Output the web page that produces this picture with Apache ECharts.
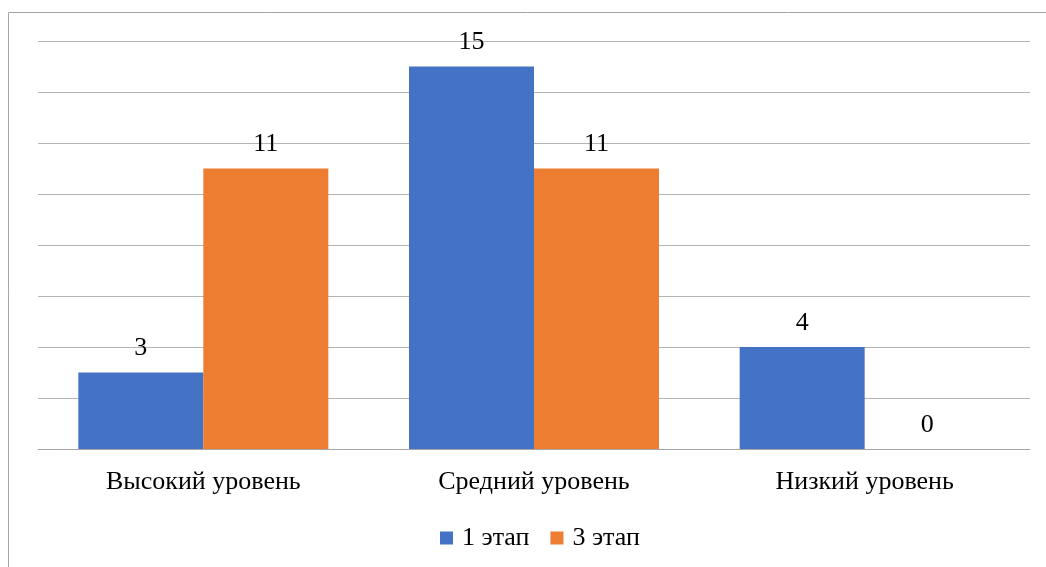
<!DOCTYPE html>
<html>
<head>
<meta charset="utf-8">
<script src="https://cdn.jsdelivr.net/npm/echarts@6/dist/echarts.min.js"></script>
<style>
  html, body { margin: 0; padding: 0; background: #fff; }
  #chart { width: 1046px; height: 567px; }
</style>
</head>
<body>
<div id="chart"></div>
<script>
// Categories and series values
const categories = ['Высокий уровень', 'Средний уровень', 'Низкий уровень'];
const stage1 = [3, 15, 4];
const stage3 = [11, 11, 0];
const seriesNames = ['1 этап', '3 этап'];

const font = '"Liberation Serif", "Times New Roman", serif';
const fontSize = 26;

const labelStyle = {
  show: true,
  position: 'top',
  distance: 11,
  fontFamily: font,
  fontSize: fontSize,
  color: '#000'
};

const chart = echarts.init(document.getElementById('chart'), null, { renderer: 'canvas' });
chart.setOption({
  animation: false,
  backgroundColor: '#fff',
  graphic: [{
    type: 'rect',
    shape: { x: 8.5, y: 12.5, width: 1100, height: 600 },
    style: { fill: 'none', stroke: '#a6a6a6', lineWidth: 1 },
    silent: true
  }],
  grid: { left: 38, right: 16, top: 41, bottom: 118 },
  legend: {
    data: seriesNames,
    bottom: 11,
    left: 435,
    icon: 'rect',
    itemWidth: 13,
    itemHeight: 13,
    itemGap: 21,
    textStyle: { fontFamily: font, fontSize: fontSize, color: '#000', padding: [0, 0, 0, 4] }
  },
  xAxis: {
    type: 'category',
    data: categories,
    axisLine: { lineStyle: { color: '#a6a6a6', width: 1 } },
    axisTick: { show: false },
    axisLabel: { fontFamily: font, fontSize: fontSize, color: '#000', margin: 20 }
  },
  yAxis: {
    type: 'value',
    min: 0,
    max: 16,
    interval: 2,
    axisLabel: { show: false },
    axisLine: { show: false },
    axisTick: { show: false },
    splitLine: { lineStyle: { color: '#b4b4b4', width: 1 } }
  },
  series: [
    {
      name: seriesNames[0],
      type: 'bar',
      data: stage1,
      barWidth: 125,
      barGap: '0%',
      itemStyle: { color: '#4472C4' },
      label: labelStyle
    },
    {
      name: seriesNames[1],
      type: 'bar',
      data: stage3,
      barWidth: 125,
      barGap: '0%',
      itemStyle: { color: '#ED7D31' },
      label: labelStyle
    }
  ]
});
</script>
</body>
</html>
